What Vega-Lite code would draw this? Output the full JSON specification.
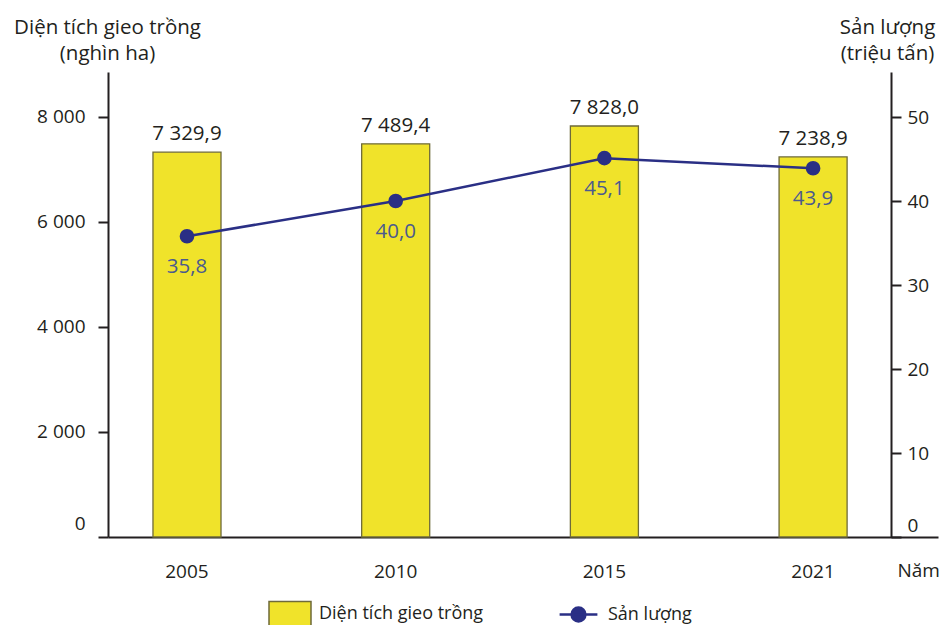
{
  "$schema": "https://vega.github.io/schema/vega-lite/v6.json",
  "width": 830,
  "height": 465,
  "autosize": {"type": "none"},
  "padding": {"left": 108, "top": 72, "right": 2, "bottom": 88},
  "background": "white",
  "config": {
    "view": {"stroke": null},
    "font": "Open Sans",
    "locale": {"number": {"decimal": ",", "thousands": " ", "grouping": [3], "currency": ["", ""]}},
    "axis": {
      "grid": false,
      "domainColor": "#231f20",
      "domainWidth": 2,
      "tickColor": "#231f20",
      "tickWidth": 2,
      "labelFont": "Open Sans",
      "labelFontSize": 19,
      "labelColor": "#231f20",
      "titleFont": "Open Sans",
      "titleFontSize": 20.5,
      "titleFontWeight": "normal",
      "titleColor": "#231f20"
    }
  },
  "data": {"values": [
    {"year": "2005", "area": 7329.9, "prod": 35.8},
    {"year": "2010", "area": 7489.4, "prod": 40.0},
    {"year": "2015", "area": 7828.0, "prod": 45.1},
    {"year": "2021", "area": 7238.9, "prod": 43.9}
  ]},
  "encoding": {
    "x": {
      "field": "year",
      "type": "nominal",
      "scale": {"paddingInner": 0.674, "paddingOuter": 0.3255, "align": 0.331},
      "axis": {
        "title": "Năm",
        "labelAngle": 0,
        "ticks": false,
        "tickSize": 0,
        "labelPadding": 34,
        "labelBaseline": "middle",
        "labelFontSize": 19,
        "titleX": 789,
        "titleY": 33,
        "titleAlign": "left",
        "titleBaseline": "middle",
        "titleFontSize": 19
      }
    }
  },
  "layer": [
    {
      "encoding": {
        "y": {
          "field": "area",
          "type": "quantitative",
          "scale": {"domain": [0, 8857], "nice": false},
          "axis": {
            "title": ["Diện tích gieo trồng", "(nghìn ha)"],
            "values": [0, 2000, 4000, 6000, 8000],
            "format": ",.0f",
            "tickSize": 10,
            "labelPadding": 13,
            "labelOffset": {"condition": {"test": "datum.value === 0", "value": -14}, "value": 0},
            "titleAngle": 0,
            "titleAlign": "center",
            "titleBaseline": "alphabetic",
            "titleX": -1,
            "titleY": -39,
            "titleLineHeight": 26
          }
        }
      },
      "layer": [
        {
          "mark": {"type": "bar", "stroke": "#6e6a3a", "strokeWidth": 1.3},
          "encoding": {
            "fill": {
              "datum": "Diện tích gieo trồng",
              "type": "nominal",
              "scale": {"range": ["#F0E32A"]},
              "legend": {
                "orient": "none",
                "legendX": 160,
                "legendY": 520,
                "title": null,
                "symbolType": "M-1,-0.6H1V0.6H-1Z",
                "symbolSize": 1764,
                "symbolStrokeColor": "#6e6a3a",
                "symbolStrokeWidth": 1.5,
                "symbolOpacity": 1,
                "labelFontSize": 18,
                "labelColor": "#231f20",
                "labelOffset": 7,
                "labelLimit": 400
              }
            }
          }
        },
        {
          "mark": {"type": "text", "dy": -18, "fontSize": 20.5, "color": "#231f20", "baseline": "middle"},
          "encoding": {"text": {"field": "area", "type": "quantitative", "format": ",.1f"}}
        }
      ]
    },
    {
      "encoding": {
        "y": {
          "field": "prod",
          "type": "quantitative",
          "scale": {"domain": [0, 55.36], "nice": false},
          "axis": {
            "orient": "right",
            "title": ["Sản lượng", "(triệu tấn)"],
            "values": [0, 10, 20, 30, 40, 50],
            "offset": -47,
            "tickSize": 10,
            "labelPadding": 6,
            "labelOffset": {"condition": {"test": "datum.value === 0", "value": -12}, "value": 0},
            "titleAngle": 0,
            "titleAlign": "center",
            "titleBaseline": "alphabetic",
            "titleX": -4,
            "titleY": -39,
            "titleLineHeight": 26
          }
        }
      },
      "layer": [
        {
          "mark": {"type": "line", "strokeWidth": 2.5, "point": {"filled": true, "fill": "#2a2f85", "size": 160, "opacity": 1}},
          "encoding": {
            "stroke": {
              "datum": "Sản lượng",
              "type": "nominal",
              "scale": {"range": ["#2a2f85"]},
              "legend": {
                "orient": "none",
                "legendX": 448,
                "legendY": 520,
                "title": null,
                "symbolType": "M-0.9,0H0.9M-0.33,0A0.33,0.33 0 1,0 0.33,0A0.33,0.33 0 1,0 -0.33,0Z",
                "symbolSize": 1764,
                "symbolFillColor": "#2a2f85",
                "symbolStrokeWidth": 2.5,
                "symbolOpacity": 1,
                "labelFontSize": 18,
                "labelColor": "#231f20",
                "labelOffset": 7,
                "labelLimit": 400
              }
            }
          }
        },
        {
          "mark": {"type": "text", "dy": 31, "fontSize": 20.5, "color": "#4b5a8e", "baseline": "middle"},
          "encoding": {"text": {"field": "prod", "type": "quantitative", "format": ".1f"}}
        }
      ]
    }
  ],
  "resolve": {"scale": {"y": "independent"}}
}
